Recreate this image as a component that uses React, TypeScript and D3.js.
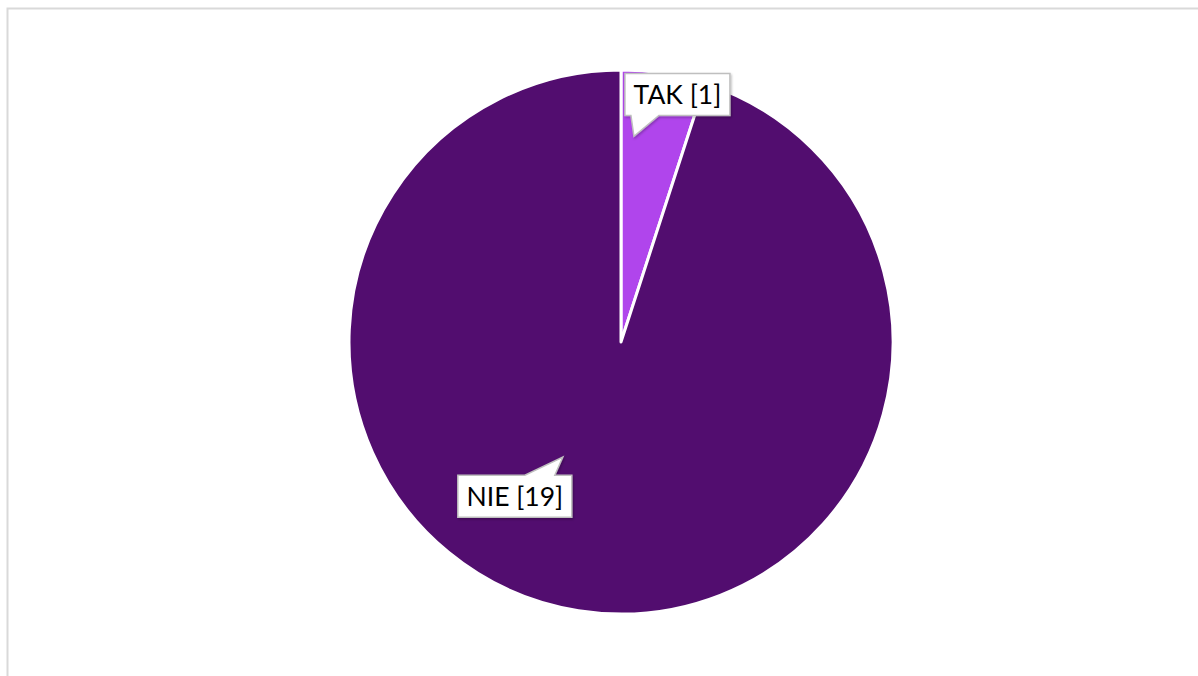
import React from "react";
import * as d3 from "d3";

const categories = ["TAK", "NIE"];
const values = [1, 19];
const colors = ["#b045ec", "#520d6f"];

const W = 1198;
const H = 676;
const cx = 621;
const cy = 342;
const R = 272;

// label tip placement (polar, relative to pie centre) and box offsets
const labelTips = [
  { angle: 3.6, r: 206, boxDx: -9, boxDy: -63, baseA: 6, baseB: 34, tailTop: false },
  { angle: 206.8, r: 129, boxDx: -105, boxDy: 18, baseA: 67, baseB: 97, tailTop: true },
];

export default function App() {
  const pie = d3.pie<number>().sort(null).startAngle(0).endAngle(2 * Math.PI)(values);
  const arc = d3.arc<d3.PieArcDatum<number>>().innerRadius(0).outerRadius(R);
  const boxW = [105, 114];
  const boxH = 42;

  return (
    <svg width={W} height={H} style={{ position: "absolute", left: 0, top: 0, fontFamily: "Lato, sans-serif" }}>
      <defs>
        <filter id="sh" x="-20%" y="-20%" width="140%" height="160%">
          <feDropShadow dx="1" dy="1.5" stdDeviation="1" floodColor="#000" floodOpacity="0.25" />
        </filter>
      </defs>
      <rect x={0} y={0} width={W} height={H} fill="#fff" />
      <rect x={7.5} y={8.5} width={W + 10} height={H + 10} fill="#fff" stroke="#d9d9d9" strokeWidth={2} />
      <g transform={`translate(${cx},${cy})`}>
        {pie.map((d, i) => (
          <path key={categories[i]} d={arc(d) || ""} fill={colors[i]} stroke="#fff" strokeWidth={3} strokeLinejoin="round" />
        ))}
      </g>
      {labelTips.map((t, i) => {
        const a = (t.angle * Math.PI) / 180;
        const tx = cx + t.r * Math.sin(a);
        const ty = cy - t.r * Math.cos(a);
        const bx = tx + t.boxDx;
        const by = ty + t.boxDy;
        const w = boxW[i];
        const h = boxH;
        let p: string;
        if (!t.tailTop) {
          p = `M${bx},${by} H${bx + w} V${by + h} H${bx + t.baseB} L${tx},${ty} L${bx + t.baseA},${by + h} H${bx} Z`;
        } else {
          p = `M${bx},${by} H${bx + t.baseA} L${tx},${ty} L${bx + t.baseB},${by} H${bx + w} V${by + h} H${bx} Z`;
        }
        return (
          <g key={"lab" + i}>
            <path d={p} fill="#fff" stroke="#bfbfbf" strokeWidth={1.5} filter="url(#sh)" />
            <text x={bx + w / 2} y={by + h / 2 + 9.5} textAnchor="middle" fontSize={26.5} fill="#000">
              {`${categories[i]} [${values[i]}]`}
            </text>
          </g>
        );
      })}
    </svg>
  );
}
